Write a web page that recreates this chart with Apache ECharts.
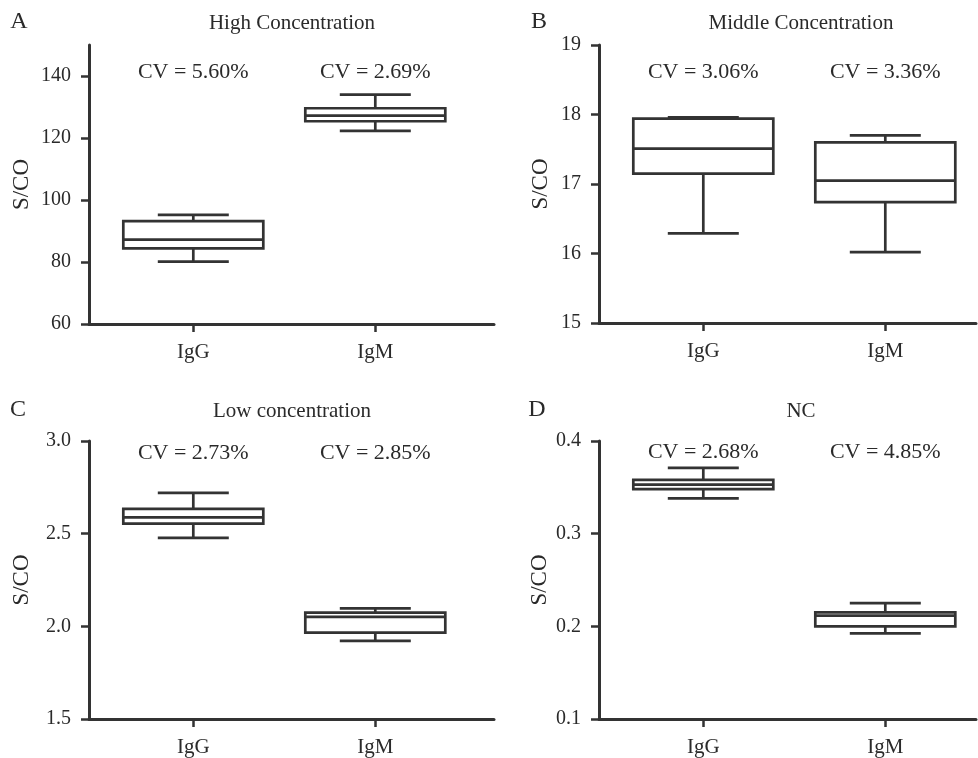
<!DOCTYPE html>
<html>
<head>
<meta charset="utf-8">
<script src="https://cdn.jsdelivr.net/npm/echarts@6/dist/echarts.min.js"></script>
<style>
html,body{margin:0;padding:0;background:#fff;}
#chart{width:978px;height:758px;}
</style>
</head>
<body>
<div id="chart"></div>
<script>
// ---------- data ----------
const categories = ['IgG', 'IgM'];
const panelLetters = ['A', 'B', 'C', 'D'];
const panelTitles = ['High Concentration', 'Middle Concentration', 'Low concentration', 'NC'];
const cvLabels = [
  ['CV = 5.60%', 'CV = 2.69%'],
  ['CV = 3.06%', 'CV = 3.36%'],
  ['CV = 2.73%', 'CV = 2.85%'],
  ['CV = 2.68%', 'CV = 4.85%']
];
// [min, Q1, median, Q3, max]
const highIgG = [80.1, 84.4, 87.2, 93.2, 95.2];
const highIgM = [122.3, 125.4, 127.2, 129.6, 134.0];
const midIgG = [16.29, 17.15, 17.51, 17.94, 17.96];
const midIgM = [16.02, 16.74, 17.05, 17.60, 17.70];
const lowIgG = [2.477, 2.554, 2.588, 2.634, 2.72];
const lowIgM = [1.921, 1.966, 2.051, 2.074, 2.097];
const ncIgG = [0.338, 0.348, 0.353, 0.358, 0.371];
const ncIgM = [0.1925, 0.200, 0.2115, 0.215, 0.225];
const panelData = [[highIgG, highIgM], [midIgG, midIgM], [lowIgG, lowIgM], [ncIgG, ncIgM]];
const yTicks = [
  [60, 80, 100, 120, 140],
  [15, 16, 17, 18, 19],
  [1.5, 2.0, 2.5, 3.0],
  [0.1, 0.2, 0.3, 0.4]
];
const yRanges = [[60, 150], [15, 19], [1.5, 3.0], [0.1, 0.4]];
const yDecimals = [0, 0, 1, 1];

// ---------- layout / style ----------
const FONT = '"Liberation Serif", "Times New Roman", serif';
const TXT = '#2a2a2a';
const LINE = '#333333';
const grids = [
  {left: 89, top: 45, width: 405, height: 279},
  {left: 599, top: 45, width: 377, height: 278},
  {left: 89, top: 441, width: 405, height: 280},
  {left: 599, top: 441, width: 377, height: 279}
];
const UNIT = 182;            // px per category step
const FIRST_OFFSET = 104.3;  // px from y axis to first category
const BOX_W = 140 / UNIT;
const CAP_W = 71 / UNIT;
const nameGaps = [56, 47, 56, 48];
const cvOffsets = [27, 27, 12, 11];
const titlePos = [[292, 23], [801, 23], [292, 411], [801, 411]];
const letterPos = [[19, 22], [539, 22], [18, 410], [537, 410]];

const chart = echarts.init(document.getElementById('chart'));

function boxRender(params, api) {
  const x = api.value(0);
  const v = [1, 2, 3, 4, 5].map(i => api.value(i));
  const p = v.map(val => api.coord([x, val]));
  const cx = p[0][0];
  const hb = api.size([BOX_W, 0])[0] / 2;
  const hc = api.size([CAP_W, 0])[0] / 2;
  const st = {stroke: LINE, lineWidth: 2.7, fill: null};
  return {
    type: 'group',
    children: [
      {type: 'line', shape: {x1: cx, y1: p[4][1], x2: cx, y2: p[3][1]}, style: st},
      {type: 'line', shape: {x1: cx, y1: p[1][1], x2: cx, y2: p[0][1]}, style: st},
      {type: 'line', shape: {x1: cx - hc, y1: p[4][1], x2: cx + hc, y2: p[4][1]}, style: st},
      {type: 'line', shape: {x1: cx - hc, y1: p[0][1], x2: cx + hc, y2: p[0][1]}, style: st},
      {type: 'rect', shape: {x: cx - hb, y: p[3][1], width: 2 * hb, height: p[1][1] - p[3][1]},
        style: {stroke: LINE, lineWidth: 2.7, fill: '#fff'}},
      {type: 'line', shape: {x1: cx - hb, y1: p[2][1], x2: cx + hb, y2: p[2][1]}, style: st}
    ]
  };
}

const option = {
  backgroundColor: '#fff',
  animation: false,
  grid: grids.map(g => Object.assign({containLabel: false}, g)),
  xAxis: grids.map((g, i) => {
    const min = 1 - FIRST_OFFSET / UNIT;
    return {
      type: 'value', gridIndex: i, min: min, max: min + g.width / UNIT,
      splitLine: {show: false},
      axisLine: {show: true, lineStyle: {color: LINE, width: 3}},
      axisTick: {show: true, length: 8, lineStyle: {color: LINE, width: 2.5}, customValues: [1, 2]},
      axisLabel: {
        customValues: [1, 2], margin: 18, color: TXT, fontFamily: FONT, fontSize: 21,
        formatter: v => categories[Math.round(v) - 1] || ''
      }
    };
  }),
  yAxis: grids.map((g, i) => ({
    type: 'value', gridIndex: i, min: yRanges[i][0], max: yRanges[i][1],
    name: 'S/CO', nameLocation: 'middle', nameGap: nameGaps[i], nameRotate: 90,
    nameTextStyle: {color: TXT, fontFamily: FONT, fontSize: 23},
    splitLine: {show: false},
    axisLine: {show: true, lineStyle: {color: LINE, width: 3}},
    axisTick: {show: true, length: 8, lineStyle: {color: LINE, width: 2.5}, customValues: yTicks[i]},
    axisLabel: {
      customValues: yTicks[i], margin: 18, color: TXT, fontFamily: FONT, fontSize: 20,
      formatter: v => Number(v).toFixed(yDecimals[i])
    }
  })),
  series: [].concat(
    panelData.map((pair, i) => ({
      type: 'custom', xAxisIndex: i, yAxisIndex: i, clip: false,
      renderItem: boxRender,
      encode: {x: 0, y: [1, 2, 3, 4, 5]},
      data: pair.map((d, k) => [k + 1].concat(d))
    })),
    cvLabels.map((labels, i) => ({
      type: 'custom', xAxisIndex: i, yAxisIndex: i, clip: false,
      renderItem: (params, api) => {
        const pt = api.coord([api.value(0), api.value(1)]);
        return {
          type: 'text', x: pt[0], y: pt[1] + cvOffsets[i],
          style: {text: labels[params.dataIndex], fill: TXT, font: '22px ' + FONT,
            textAlign: 'center', textVerticalAlign: 'middle'}
        };
      },
      encode: {x: 0, y: 1},
      data: labels.map((t, k) => [k + 1, yRanges[i][1]])
    }))
  ),
  graphic: [].concat(
    panelTitles.map((t, i) => ({
      type: 'text', x: titlePos[i][0], y: titlePos[i][1],
      style: {text: t, fill: TXT, font: '21px ' + FONT, textAlign: 'center', textVerticalAlign: 'middle'}
    })),
    panelLetters.map((t, i) => ({
      type: 'text', x: letterPos[i][0], y: letterPos[i][1],
      style: {text: t, fill: TXT, font: '24px ' + FONT, textAlign: 'center', textVerticalAlign: 'middle'}
    }))
  )
};
chart.setOption(option);
</script>
</body>
</html>
